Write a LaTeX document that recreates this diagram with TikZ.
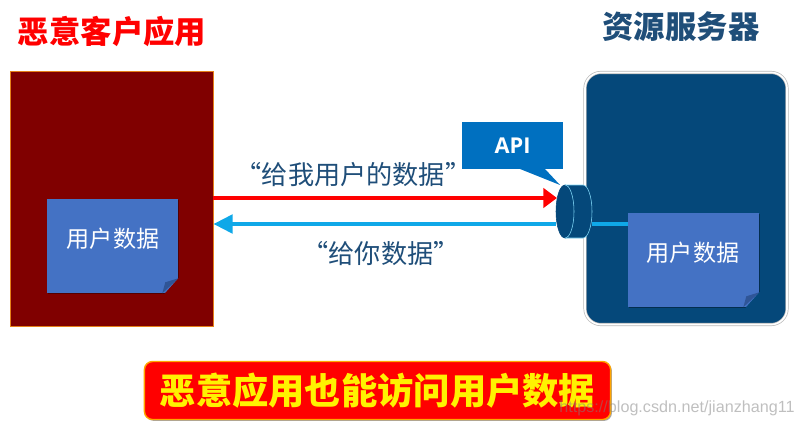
\documentclass[tikz,border=0pt]{standalone}
\usepackage{fontspec}
\setmainfont{Noto Sans CJK SC}[Script=CJK, Language=Chinese Simplified]
\newfontfamily\apifont{Open Sans}
\newfontfamily\markfont{Liberation Sans}
\usetikzlibrary{arrows.meta, positioning, calc, shadows}

\definecolor{maroonbox}{HTML}{800000}
\definecolor{navybox}{HTML}{05487A}
\definecolor{navytext}{HTML}{1F4E79}
\definecolor{noteblue}{HTML}{4472C4}
\definecolor{foldblue}{HTML}{2F5597}
\definecolor{apiblue}{HTML}{0070C0}
\definecolor{flowblue}{HTML}{0FA8E8}

\tikzset{
	softshadow/.style={drop shadow={shadow xshift=1pt, shadow yshift=-1pt, opacity=.35, fill=black}},
	title/.style={font=\fontsize{22.3}{24}\selectfont\bfseries, inner sep=0pt},
	notebox/.style={fill=noteblue, minimum width=3.275cm, minimum height=2.35cm, inner sep=0pt, softshadow},
	notetext/.style={font=\fontsize{16.4}{18}\selectfont, text=white, inner sep=0pt},
	saying/.style={font=\fontsize{18.6}{20}\selectfont, text=navytext, inner sep=0pt},
	redflow/.style={line width=.1cm, red, -{Triangle[length=.34cm, width=.48cm]}},
	blueflow/.style={line width=.1cm, flowblue, -{Triangle[length=.48cm, width=.46cm]}},
}

% #1 note, #2 colour behind it
\newcommand{\notefold}[2]{
	\fill[#2] ($(#1.east |- #1.south)+(-16,3)$) -- ($(#1.east |- #1.south)+(3,3)$) -- ($(#1.east |- #1.south)+(3,-16)$) -- ($(#1.east |- #1.south)+(0,-15)$) -- cycle;
	\fill[foldblue] ($(#1.east |- #1.south)+(-16,0)$) -- ($(#1.east |- #1.south)+(0,-15)$) -- ($(#1.east |- #1.south)+(-13,-11)$) -- cycle;
}

\begin{document}
\begin{tikzpicture}[x=0.025cm, y=-0.025cm]
	\useasboundingbox (0,0) rectangle (800,427);

	\node[title, text=red] (maltitle) at (112,32) {恶意客户应用};
	\node[title, text=navytext] (restitle) at (681,27) {资源服务器};

	\node[draw=orange!60!brown, line width=.6pt, fill=maroonbox, minimum width=5.075cm, minimum height=6.375cm, inner sep=0pt, softshadow] (malapp) at (111.5,198.5) {};
	\node[draw=gray!55, double=white, double distance=1.2pt, line width=.5pt, fill=navybox, rounded corners=.4cm, minimum width=5.05cm, minimum height=6.3cm, inner sep=0pt] (server) at (686,198.5) {};

	\node[fill=apiblue, minimum width=2.525cm, minimum height=1.175cm, inner sep=0pt, font=\fontsize{15.5}{17}\selectfont\apifont\bfseries, text=white] (api) at (512.5,145.5) {API};
	\coordinate (apitip) at (560,185);
	\fill[apiblue] (520,169) -- (545,169) -- (apitip) -- cycle;

	\node[minimum width=.9cm, minimum height=1.325cm, inner sep=0pt] (port) at (574,211.5) {};
	\coordinate (redtip) at (557,198);
	\coordinate (blueout) at (556,224);
	\coordinate (blueback) at (592,224);

	\node[notebox] (localdata) at (112.5,246) {};
	\notefold{localdata}{maroonbox}
	\node[notetext] (localtext) at (113,239) {用户数据};

	\node[notebox] (serverdata) at (693.5,260) {};
	\notefold{serverdata}{navybox}
	\node[notetext] (servertext) at (693,253) {用户数据};
	\draw[line width=.1cm, flowblue] (blueback) -- (serverdata.west |- blueback);

	\fill[navybox] (565,185) -- (583,185) arc[start angle=-90, end angle=90, x radius=9, y radius=26.5] -- (565,238) -- cycle;
	\draw[cyan!50!white, line width=.4pt] (565,185) -- (583,185) arc[start angle=-90, end angle=90, x radius=9, y radius=26.5] -- (565,238);
	\filldraw[fill=navybox, draw=navybox] (565,211.5) ellipse [x radius=9, y radius=26.5];
	\draw[cyan!50!white, line width=.4pt] (565,185) arc[start angle=-90, end angle=90, x radius=9, y radius=26.5];

	\draw[redflow] (malapp.east |- redtip) -- (redtip);
	\draw[blueflow] (blueout) -- (malapp.east |- blueout);

	\node[saying] (ask) at (353.5,175) {“给我用户的数据”};
	\node[saying] (give) at (381,254) {“给你数据”};

	\node[draw=orange!70!yellow, line width=1pt, fill=red, rounded corners=.2cm, minimum width=11.65cm, minimum height=1.45cm, inner sep=0pt, font=\fontsize{25.8}{28}\selectfont\bfseries, text=yellow, softshadow] (banner) at (377.5,390.5) {恶意应用也能访问用户数据};

	\node[font=\fontsize{11.5}{13}\selectfont\markfont, text=gray, opacity=.5, inner sep=0pt] (mark) at (677,408) {https://blog.csdn.net/jianzhang11};
\end{tikzpicture}
\end{document}
